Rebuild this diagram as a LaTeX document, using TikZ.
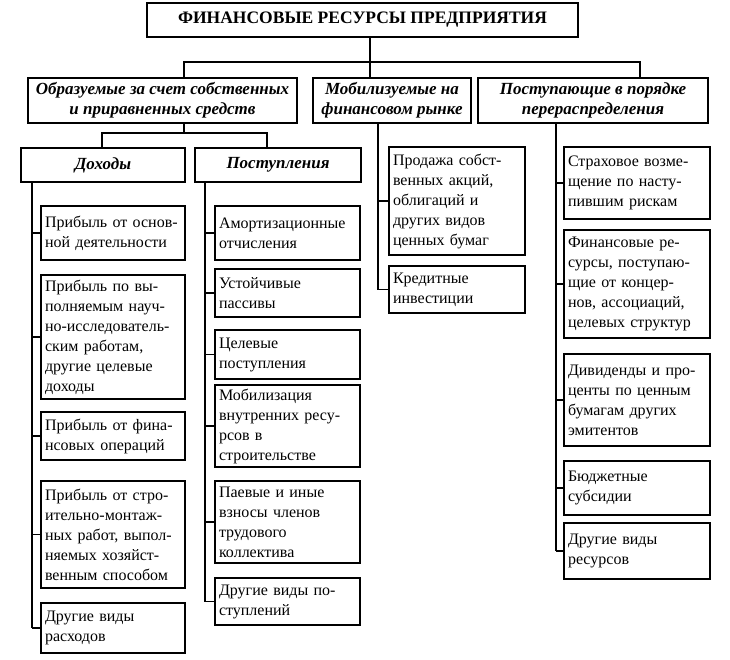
\documentclass[tikz,border=0pt]{standalone}
\usepackage{fontspec}
\setmainfont{Liberation Serif}

\tikzset{
  box/.style={draw, line width=1.5pt, inner xsep=4pt, inner ysep=2pt},
  head/.style={box, font=\fontsize{17.5}{20}\selectfont\bfseries},
  group/.style={box, align=center, font=\fontsize{17}{20}\selectfont\bfseries\itshape},
  item/.style={box, align=left, font=\fontsize{16}{20}\selectfont},
  colL/.style={item, text width=136pt},
  colP/.style={item, text width=137pt},
  colB/.style={item, text width=128pt},
  colC/.style={item, text width=138pt},
  link/.style={line width=1.2pt}
}

\begin{document}
\begin{tikzpicture}[x=1pt,y=-1pt]
\useasboundingbox (0,0) rectangle (730,659);

% top levels
\node[head, minimum width=431pt, minimum height=34pt] (title) at (362.5,20) {ФИНАНСОВЫЕ РЕСУРСЫ ПРЕДПРИЯТИЯ};
\node[group, minimum width=269pt, minimum height=45pt] (own) at (162.5,100.5) {Образуемые за счет собственных\\и приравненных средств};
\node[group, minimum width=158pt, minimum height=45pt] (market) at (392,100.5) {Мобилизуемые на\\финансовом рынке};
\node[group, minimum width=230pt, minimum height=45pt] (redis) at (593,100.5) {Поступающие в порядке\\перераспределения};
\node[group, minimum width=164pt, minimum height=34pt] (inc) at (103,165) {Доходы};
\node[group, minimum width=166pt, minimum height=34pt] (rec) at (278,165) {Поступления};

% incomes
\node[colL, minimum height=54pt] (d1) at (113,233) {Прибыль от основ-\\ной деятельности};
\node[colL, minimum height=124pt] (d2) at (113,337) {Прибыль по вы-\\полняемым науч-\\но-исследователь-\\ским работам,\\другие целевые\\доходы};
\node[colL, minimum height=48pt] (d3) at (113,436) {Прибыль от фина-\\нсовых операций};
\node[colL, minimum height=107pt] (d4) at (113,534.5) {Прибыль от стро-\\ительно-монтаж-\\ных работ, выпол-\\няемых хозяйст-\\венным способом};
\node[colL, minimum height=50pt] (d5) at (113,628) {Другие виды\\расходов};

% receipts
\node[colP, minimum height=54pt] (p1) at (287.5,233) {Амортизационные\\отчисления};
\node[colP, minimum height=48pt] (p2) at (287.5,293) {Устойчивые\\пассивы};
\node[colP, minimum height=49pt] (p3) at (287.5,354.5) {Целевые\\поступления};
\node[colP, minimum height=82pt] (p4) at (287.5,426) {Мобилизация\\внутренних ресу-\\рсов в\\строительстве};
\node[colP, minimum height=82pt] (p5) at (287.5,522) {Паевые и иные\\взносы членов\\трудового\\коллектива};
\node[colP, minimum height=47pt] (p6) at (287.5,601.5) {Другие виды по-\\ступлений};

% financial market
\node[colB, minimum height=108pt] (b1) at (457,201) {Продажа собст-\\венных акций,\\облигаций и\\других видов\\ценных бумаг};
\node[colB, minimum height=47pt] (b2) at (457,289.5) {Кредитные\\инвестиции};

% redistribution
\node[colC, minimum height=72pt] (c1) at (637,183) {Страховое возме-\\щение по насту-\\пившим рискам};
\node[colC, minimum height=108pt] (c2) at (637,284) {Финансовые ре-\\сурсы, поступаю-\\щие от концер-\\нов, ассоциаций,\\целевых структур};
\node[colC, minimum height=92pt] (c3) at (637,400) {Дивиденды и про-\\центы по ценным\\бумагам других\\эмитентов};
\node[colC, minimum height=54pt] (c4) at (637,488) {Бюджетные\\субсидии};
\node[colC, minimum height=56pt] (c5) at (637,551) {Другие виды\\ресурсов};

% connectors
\coordinate (t0) at (370,62);
\coordinate (j1) at (184,62);
\coordinate (j3) at (640,62);
\coordinate (k0) at (184,133);
\coordinate (k1) at (102,133);
\coordinate (k2) at (267,133);
\coordinate (sD) at (32,0);
\coordinate (sP) at (205,0);
\coordinate (sB) at (378,0);
\coordinate (sC) at (556,0);
\draw[link] (title.south -| t0) -- (market.north -| t0);
\draw[link] (j1 |- own.north) -- (j1) -- (j3) -- (j3 |- redis.north);
\draw[link] (own.south -| k0) -- (k0);
\draw[link] (k1 |- inc.north) -- (k1) -- (k2) -- (k2 |- rec.north);
\draw[link] (inc.south -| sD) -- (sD |- d5.west);
\draw[link] (rec.south -| sP) -- (sP |- p6.west);
\draw[link] (market.south -| sB) -- (sB |- b2.west);
\draw[link] (redis.south -| sC) -- (sC |- c5.west);
\foreach \n in {d1,d2,d3,d4,d5} \draw[link] (sD |- \n.west) -- (\n.west);
\foreach \n in {p1,p2,p3,p4,p5,p6} \draw[link] (sP |- \n.west) -- (\n.west);
\foreach \n in {b1,b2} \draw[link] (sB |- \n.west) -- (\n.west);
\foreach \n in {c1,c2,c3,c4,c5} \draw[link] (sC |- \n.west) -- (\n.west);
\end{tikzpicture}
\end{document}
